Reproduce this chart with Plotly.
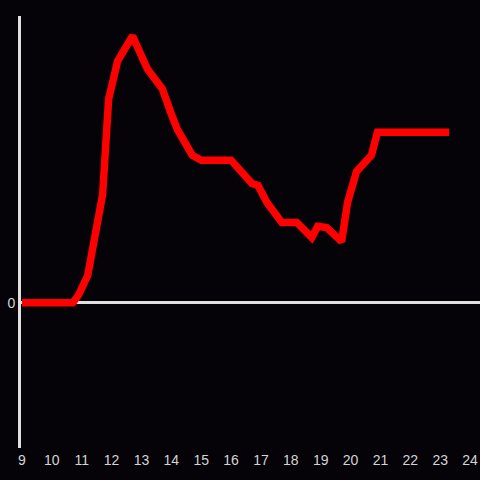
import plotly.graph_objects as go

# time of day (hours) and level
hours = [9.0, 10.7, 10.9, 11.2, 11.7, 11.9, 12.2, 12.7, 13.2, 13.7, 14.0, 14.2,
         14.7, 15.0, 16.0, 16.2, 16.7, 16.9, 17.2, 17.7, 18.2, 18.7, 18.9,
         19.2, 19.7, 19.9, 20.2, 20.7, 20.9, 21.2, 23.3]
level = [0, 0, 3, 10.2, 40.6, 76.3, 90.6, 100, 87.6, 80.1, 70.7, 65,
         55.3, 53.4, 53.4, 51.1, 44.7, 44, 37.6, 30.1, 30.1, 24.4, 28.6,
         28.2, 22.9, 37.6, 49.2, 55.3, 63.9, 63.9, 63.9]

x_ticks = list(range(9, 25))

BG = "#050307"
AXIS = "#e0e0e0"

fig = go.Figure(
    go.Scatter(
        x=hours,
        y=level,
        mode="lines",
        line=dict(color="#ff0000", width=7.5),
        hoverinfo="skip",
    )
)

fig.update_layout(
    width=480,
    height=480,
    paper_bgcolor=BG,
    plot_bgcolor=BG,
    margin={"l": 21, "r": 0, "t": 16, "b": 32},
    font=dict(family="Arial, Liberation Sans, sans-serif", size=14, color="#d4d4d4"),
    showlegend=False,
    xaxis=dict(
        range=[9 - 1 / 30, 24 + 1 / 3],
        tickvals=x_ticks,
        showgrid=False,
        zeroline=False,
        showline=False,
        ticks="",
        ticklabelstandoff=2,
    ),
    yaxis=dict(
        range=[-54.5, 107.5],
        tickvals=[0],
        showgrid=False,
        zeroline=True,
        zerolinecolor=AXIS,
        zerolinewidth=3,
        showline=True,
        linecolor=AXIS,
        linewidth=3,
        ticks="",
    ),
)

fig.write_html(
    "out.html",
    config={"displayModeBar": False},
    post_script="document.body.style.margin='0';document.body.style.background='%s';" % BG,
)
